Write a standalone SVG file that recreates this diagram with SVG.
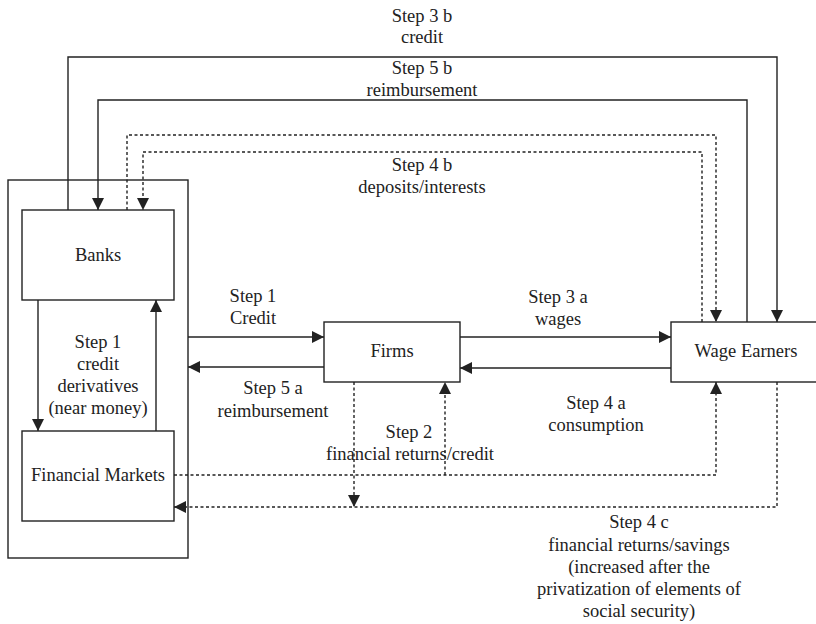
<svg xmlns="http://www.w3.org/2000/svg" width="816" height="624" viewBox="0 0 816 624">
<defs>
<marker id="ah" viewBox="0 0 12 12" refX="12" refY="6" markerWidth="12" markerHeight="12" markerUnits="userSpaceOnUse" orient="auto">
<path d="M0,0 L12,6 L0,12 z" fill="#222"/>
</marker>
</defs>
<style>
.box{fill:#fff;stroke:#222;stroke-width:1.4}
.c{fill:none;stroke:#222;stroke-width:1.4}
.d{fill:none;stroke:#222;stroke-width:1.4;stroke-dasharray:3 2.5}
.a{marker-end:url(#ah)}
text{font-family:"Liberation Serif","Times New Roman",serif;font-size:18.5px;fill:#222;text-anchor:middle}
</style>
<rect width="816" height="624" fill="#fff"/>
<g id="outer"><rect class="box" x="8" y="180" width="180" height="378"/></g>
<g id="banks"><rect class="box" x="22" y="210" width="152" height="90"/><text x="98" y="261">Banks</text></g>
<g id="markets"><rect class="box" x="22" y="431" width="152" height="90"/><text x="98" y="481">Financial Markets</text></g>
<g id="firms"><rect class="box" x="324" y="322" width="136" height="60"/><text x="392" y="357">Firms</text></g>
<g id="wage"><rect class="box" x="671" y="322" width="160" height="60"/><text x="746" y="357">Wage Earners</text></g>
<g id="connectors">
<path class="c a" d="M68,210 V57 H777 V322"/>
<path class="c a" d="M747,322 V100 H98 V210"/>
<path class="d a" d="M127,210 V135 H716 V322"/>
<path class="d a" d="M702,322 V152 H143 V210"/>
<path class="c a" d="M38,300 V431"/>
<path class="c a" d="M156,431 V300"/>
<path class="c a" d="M188,337 H324"/>
<path class="c a" d="M324,367 H188"/>
<path class="c a" d="M460,337 H671"/>
<path class="c a" d="M671,368 H460"/>
<path class="d a" d="M174,475 H716 V382"/>
<path class="d a" d="M445,475 V382"/>
<path class="d a" d="M777,382 V507 H174"/>
<path class="d a" d="M354,382 V507"/>
</g>
<g id="labels">
<text x="422" y="22">Step 3 b</text>
<text x="422" y="43">credit</text>
<text x="422" y="74">Step 5 b</text>
<text x="422" y="96">reimbursement</text>
<text x="422" y="171">Step 4 b</text>
<text x="422" y="193">deposits/interests</text>
<text x="98" y="348">Step 1</text>
<text x="98" y="370">credit</text>
<text x="98" y="392">derivatives</text>
<text x="98" y="414">(near money)</text>
<text x="253" y="302">Step 1</text>
<text x="253" y="324">Credit</text>
<text x="273" y="394">Step 5 a</text>
<text x="273" y="417">reimbursement</text>
<text x="558" y="303">Step 3 a</text>
<text x="558" y="325">wages</text>
<text x="596" y="409">Step 4 a</text>
<text x="596" y="431">consumption</text>
<text x="409" y="438">Step 2</text>
<text x="410" y="460">financial returns/credit</text>
<text x="639" y="528">Step 4 c</text>
<text x="639" y="551">financial returns/savings</text>
<text x="639" y="573">(increased after the</text>
<text x="639" y="595">privatization of elements of</text>
<text x="639" y="617">social security)</text>
</g>
</svg>
